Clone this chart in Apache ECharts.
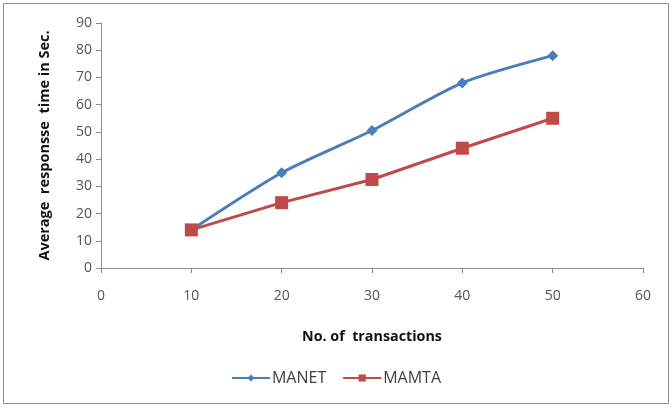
<!DOCTYPE html>
<html>
<head>
<meta charset="utf-8">
<script src="https://cdn.jsdelivr.net/npm/echarts@6/dist/echarts.min.js"></script>
<style>
  html, body { margin: 0; padding: 0; background: #fff; }
  #chart { width: 672px; height: 408px; }
</style>
</head>
<body>
<div id="chart"></div>
<script>
var transactions = [10, 20, 30, 40, 50];
var manet = [14, 35, 50.5, 68, 78];
var mamta = [14, 24, 32.5, 44, 55];

function pairs(xs, ys) {
  return xs.map(function (x, i) { return [x, ys[i]]; });
}

var font = 'Open Sans';
var chart = echarts.init(document.getElementById('chart'));
chart.setOption({
  backgroundColor: '#fff',
  animation: false,
  graphic: [{
    type: 'rect',
    shape: { x: 3.5, y: 3.5, width: 665, height: 400 },
    style: { fill: 'none', stroke: '#8c8c8c', lineWidth: 1 }
  }],
  grid: { left: 101, right: 29, top: 23, bottom: 140 },
  legend: {
    bottom: 17,
    left: 'center',
    itemWidth: 38,
    itemHeight: 9,
    itemGap: 16,
    textStyle: { fontFamily: font, fontSize: 16, color: '#404040', padding: [0, 0, 0, -3] },
    data: ['MANET', 'MAMTA']
  },
  xAxis: {
    type: 'value',
    min: 0, max: 60, interval: 10,
    name: 'No. of  transactions',
    nameLocation: 'middle',
    nameGap: 62,
    nameTextStyle: { fontFamily: font, fontSize: 14.3, fontWeight: 'bold', color: '#111' },
    axisLine: { lineStyle: { color: '#8c8c8c' } },
    axisTick: { show: true, length: 5, lineStyle: { color: '#8c8c8c' } },
    axisLabel: { fontFamily: font, fontSize: 14, color: '#555', margin: 21 },
    splitLine: { show: false }
  },
  yAxis: {
    type: 'value',
    min: 0, max: 90, interval: 10,
    name: 'Average  responsse  time in Sec.',
    nameLocation: 'middle',
    nameGap: 49,
    nameTextStyle: { fontFamily: font, fontSize: 14.5, fontWeight: 'bold', color: '#111' },
    axisLine: { show: true, lineStyle: { color: '#8c8c8c' } },
    axisTick: { show: true, length: 5, lineStyle: { color: '#8c8c8c' } },
    axisLabel: { fontFamily: font, fontSize: 14, color: '#555', margin: 9 },
    splitLine: { show: false }
  },
  series: [
    {
      name: 'MANET',
      type: 'line',
      data: pairs(transactions, manet),
      smooth: 0.25,
      symbol: 'diamond',
      symbolSize: 11,
      color: '#4a7ebb',
      lineStyle: { width: 3, color: '#4a7ebb' },
      itemStyle: { color: '#4a7ebb' }
    },
    {
      name: 'MAMTA',
      type: 'line',
      data: pairs(transactions, mamta),
      symbol: 'rect',
      symbolSize: 13,
      color: '#be4b48',
      lineStyle: { width: 3, color: '#be4b48' },
      itemStyle: { color: '#be4b48' }
    }
  ]
});
</script>
</body>
</html>
